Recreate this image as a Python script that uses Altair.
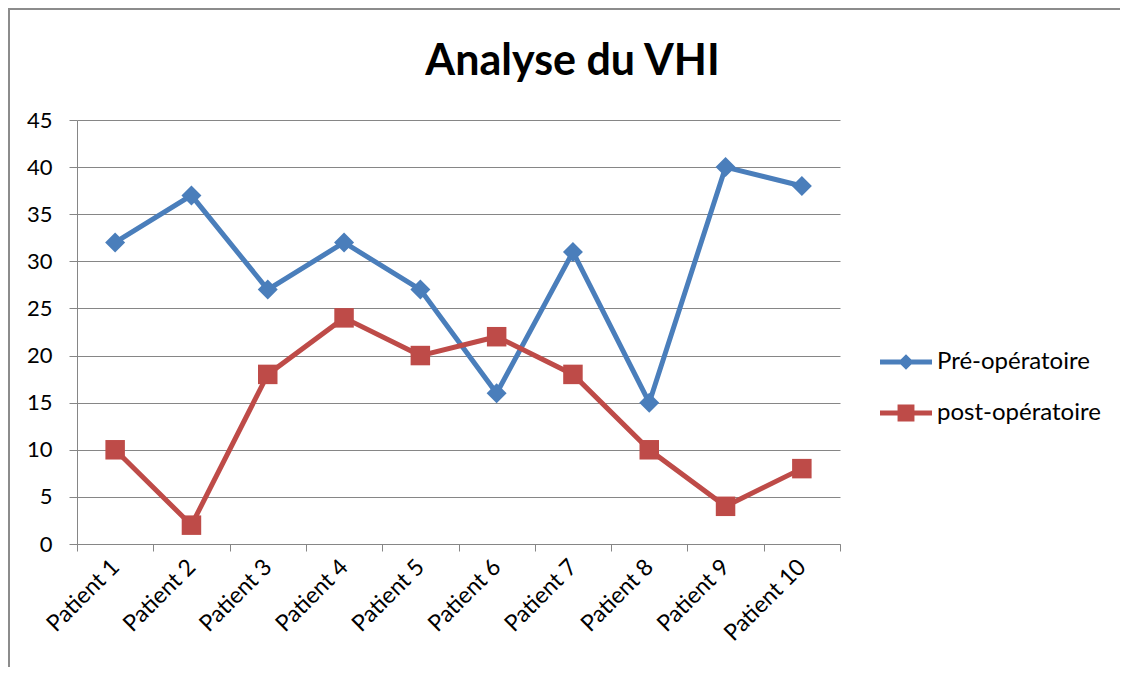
import altair as alt
import pandas as pd

patients = ["Patient 1", "Patient 2", "Patient 3", "Patient 4", "Patient 5",
            "Patient 6", "Patient 7", "Patient 8", "Patient 9", "Patient 10"]
pre_values = [32, 37, 27, 32, 27, 16, 31, 15, 40, 38]
post_values = [10, 2, 18, 24, 20, 22, 18, 10, 4, 8]
series_names = ["Pré-opératoire", "post-opératoire"]
series_colors = ["#4A7EBB", "#BE4B48"]
y_ticks = [0, 5, 10, 15, 20, 25, 30, 35, 40, 45]

rows = []
for p, v in zip(patients, pre_values):
    rows.append({"patient": p, "series": series_names[0], "value": v})
for p, v in zip(patients, post_values):
    rows.append({"patient": p, "series": series_names[1], "value": v})
df = pd.DataFrame(rows)

FONT = "Lato"
GRID = "#868686"

x_enc = alt.X("patient:N", sort=patients, title=None,
              scale=alt.Scale(type="band", paddingInner=0, paddingOuter=0),
              axis=alt.Axis(labelAngle=-45, labelAlign="right", labelBaseline="middle",
                            labelFontSize=23, labelFont=FONT, labelColor="black",
                            tickBand="extent", tickSize=7, tickColor=GRID,
                            domainColor=GRID, labelPadding=12, grid=False))
y_enc = alt.Y("value:Q", title=None,
              scale=alt.Scale(domain=[0, 45], nice=False),
              axis=alt.Axis(values=y_ticks, labelFontSize=22, labelFont=FONT,
                            labelColor="black", tickSize=8, tickColor=GRID,
                            domainColor=GRID, gridColor=GRID, grid=True,
                            labelPadding=17))

base = alt.Chart(df)

pre_line = base.transform_filter(alt.datum.series == series_names[0]).mark_line(
    color=series_colors[0], strokeWidth=5).encode(x=x_enc, y=y_enc)
pre_pts = base.transform_filter(alt.datum.series == series_names[0]).mark_point(
    shape="diamond", filled=True, opacity=1, size=400, color=series_colors[0]).encode(x=x_enc, y=y_enc)
post_line = base.transform_filter(alt.datum.series == series_names[1]).mark_line(
    color=series_colors[1], strokeWidth=5).encode(x=x_enc, y=y_enc)
post_pts = base.transform_filter(alt.datum.series == series_names[1]).mark_point(
    shape="square", filled=True, opacity=1, size=380, color=series_colors[1]).encode(x=x_enc, y=y_enc)

legend_paths = [
    "M-2,-0.2 L2,-0.2 L2,0.2 L-2,0.2 Z M0,-0.6 L0.6,0 L0,0.6 L-0.6,0 Z",
    "M-2,-0.2 L2,-0.2 L2,0.2 L-2,0.2 Z M-0.65,-0.65 L0.65,-0.65 L0.65,0.65 L-0.65,0.65 Z",
]
legend_opts = dict(title=None, orient="none", legendX=816, legendY=229,
                   labelFontSize=24, labelFont=FONT, labelColor="black", labelLimit=300,
                   symbolSize=676, labelOffset=18, rowPadding=26,
                   symbolOpacity=1, symbolStrokeWidth=0, padding=0)
legend_layer = base.transform_filter("false").mark_point(filled=True, opacity=1).encode(
    x=x_enc, y=y_enc,
    color=alt.Color("series:N", scale=alt.Scale(domain=series_names, range=series_colors),
                    legend=alt.Legend(**legend_opts)),
    shape=alt.Shape("series:N", scale=alt.Scale(domain=series_names, range=legend_paths),
                    legend=alt.Legend(**legend_opts)),
)

frame = alt.Chart(alt.Data(values=[{}]))
top_border = frame.mark_rule(color="#8c8c8c", strokeWidth=2).encode(
    x=alt.value(-69), x2=alt.value(1043), y=alt.value(-111))
left_border = frame.mark_rule(color="#8c8c8c", strokeWidth=2).encode(
    x=alt.value(-68), y=alt.value(-111), y2=alt.value(547))

chart = alt.layer(top_border, left_border, pre_line, post_line, pre_pts, post_pts, legend_layer).properties(
    width=763, height=424,
    title=alt.TitleParams("Analyse du VHI", fontSize=43, font=FONT, fontWeight="bold",
                          color="black", anchor="middle", frame="group", dx=114,
                          baseline="alphabetic", offset=-110),
    autosize=alt.AutoSizeParams(type="none"),
    padding={"left": 69, "top": 112, "right": 280, "bottom": 123},
).configure_view(stroke=None)

chart.save("out.html", embed_options={"renderer": "svg", "actions": False})
